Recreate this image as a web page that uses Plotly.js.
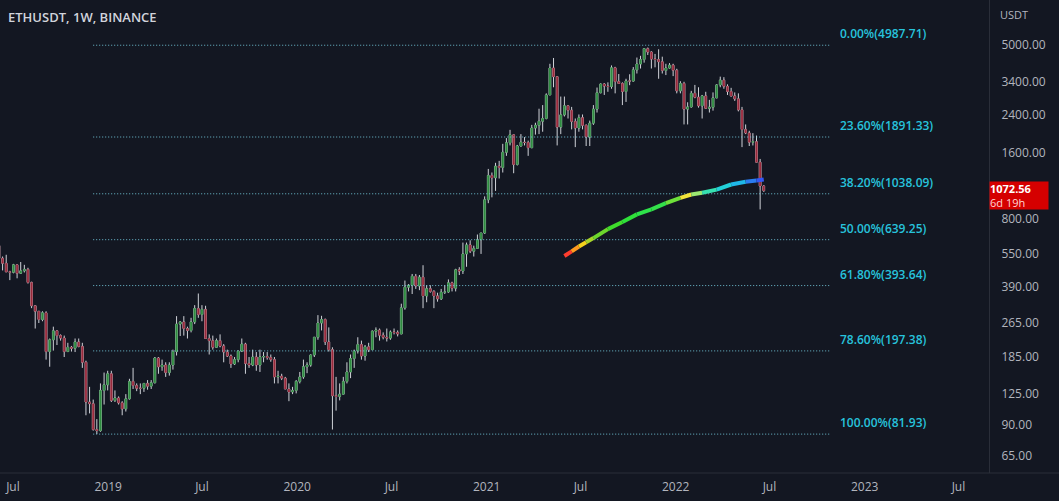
<!DOCTYPE html>
<html>
<head>
<meta charset="utf-8">
<script src="https://cdn.plot.ly/plotly-3.0.1.min.js"></script>
<style>
html,body{margin:0;padding:0;background:#131722;}
#chart{width:1059px;height:501px;}
</style>
</head>
<body>
<div id="chart"></div>
<script>
// Weekly candles [open, high, low, close], weeks starting Monday 2018-06-04
const firstWeek = '2018-06-04';
const candles2018 = [
  [600,628,515,525],[525,535,462,498],[498,545,455,455],[455,460,417,453],
  [453,495,448,490],[490,492,425,448],[448,505,445,460],[460,490,452,467],
  [467,475,402,407],[407,410,310,318],[318,320,250,300],[300,300,265,275],
  [275,300,270,295],[295,300,180,196],[196,225,167,222],[222,255,198,244],
  [244,245,210,232],[232,235,220,226],[226,232,185,196],[196,215,195,205],
  [205,208,196,203],[203,225,195,217],[217,225,205,207],[207,215,165,175],
  [175,178,100,115],[115,135,102,113],[113,118,85,86],[86,96,82,85],
  [85,140,84,130],[130,157,112,138],[138,160,130,155]
];
const candles2019 = [
  [155,160,115,117],[117,130,115,120],[120,122,112,114],[114,116,100,107],
  [107,125,104,119],[119,147,118,143],[143,165,132,137],[137,140,129,133],
  [133,140,125,133],[133,140,128,140],[140,145,131,136],[136,145,132,141],
  [141,185,140,183],[183,185,155,167],[167,180,160,170],[170,175,150,157],
  [157,175,152,170],[170,200,162,196],[196,285,188,262],[262,270,231,268],
  [268,285,232,250],[250,255,225,245],[245,280,240,268],[268,320,262,309],
  [309,362,280,290],[290,320,270,306],[306,318,224,225],[225,235,190,220],
  [220,232,200,205],[205,225,205,220],[220,235,205,208],[208,212,175,195],
  [195,200,185,187],[187,190,165,172],[172,185,170,180],[180,198,175,197],
  [197,225,195,212],[212,215,155,173],[173,185,165,170],[170,200,168,185],
  [185,195,160,170],[170,200,158,185],[185,195,175,186],[186,195,180,184],
  [184,190,176,180],[180,185,140,150],[150,160,140,151],[151,155,145,148],
  [148,150,132,132],[132,140,116,128],[128,135,125,130],[130,145,126,143]
];
const candles2020 = [
  [143,158,140,150],[150,180,147,167],[167,175,156,170],[170,190,167,189],
  [189,228,185,228],[228,288,222,265],[265,286,245,275],[275,278,210,217],
  [217,253,196,200],[200,205,86,123],[123,150,105,122],[122,140,117,125],
  [125,150,125,143],[143,175,140,158],[158,190,148,182],[182,200,165,197],
  [197,228,192,211],[211,220,180,187],[187,210,178,206],[206,215,195,200],
  [200,245,199,243],[243,253,228,246],[246,250,220,233],[233,240,223,228],
  [228,250,218,226],[226,245,222,241],[241,250,235,240],[240,245,230,236],
  [236,325,236,311],[311,415,305,387],[387,400,370,395],[395,445,360,434],
  [434,445,380,392],[392,440,375,430],[430,488,310,353],[353,395,330,381],
  [381,395,365,370],[370,375,310,353],[353,365,332,342],[342,380,338,367],
  [367,395,360,368],[368,420,365,405],[405,410,370,383],[383,470,370,465],
  [465,478,440,459],[459,620,445,550],[550,620,480,605],[605,635,555,566],
  [566,600,535,583],[583,675,580,639],[639,665,550,686],[686,1010,680,975]
];
const candles2021 = [
  [975,1350,940,1260],[1260,1300,1000,1230],[1230,1440,1070,1390],[1390,1470,1220,1370],
  [1370,1760,1300,1610],[1610,1870,1550,1780],[1780,2040,1730,1935],[1935,1940,1290,1415],
  [1415,1740,1400,1720],[1720,1950,1710,1790],[1790,1890,1730,1785],[1785,1820,1550,1690],
  [1690,2150,1680,2080],[2080,2200,1940,2140],[2140,2550,1950,2235],[2235,2650,2000,2300],
  [2300,3000,2280,2950],[2950,4100,2950,3920],[3920,4360,3200,3580],[3580,3600,1730,2100],
  [2100,2900,1950,2390],[2390,2900,2350,2630],[2630,2650,2300,2510],[2510,2600,2050,2230],
  [2230,2300,1700,2080],[2080,2400,2000,2320],[2320,2400,2050,2140],[2140,2160,1720,1890],
  [1890,2250,1720,2190],[2190,2650,2150,2540],[2540,3190,2450,3020],[3020,3330,3000,3310],
  [3310,3340,2950,3240],[3240,3370,3050,3225],[3225,4030,3150,3930],[3930,3970,3000,3400],
  [3400,3680,3320,3330],[3330,3370,2650,3060],[3060,3500,2740,3420],[3420,3670,3270,3415],
  [3415,3960,3400,3845],[3845,4380,3700,4090],[4090,4460,3900,4290],[4290,4820,4150,4810],
  [4810,4870,4500,4640],[4640,4680,3900,4310],[4310,4550,3950,4290],[4290,4780,3500,4190],
  [4190,4420,3700,3820],[3820,4100,3640,3920],[3920,4130,3900,4040],[4040,4100,3600,3830]
];
const candles2022 = [
  [3830,3890,3000,3080],[3080,3410,3000,3330],[3330,3390,2160,2540],[2540,2730,2160,2600],
  [2600,3080,2580,3000],[3000,3280,2850,2880],[2880,3200,2580,2630],[2630,2950,2300,2920],
  [2920,3050,2550,2560],[2560,2800,2450,2590],[2590,3030,2500,2860],[2860,3300,2850,3280],
  [3280,3580,3200,3450],[3450,3560,3150,3230],[3230,3300,2950,3060],[3060,3180,2900,2920],
  [2920,3030,2770,2830],[2830,3000,2480,2520],[2520,2600,1700,2050],[2050,2160,1950,1975],
  [1975,2020,1720,1790],[1790,1970,1730,1800],[1800,1920,1450,1450],[1450,1500,880,1127],
  [1127,1135,1060,1072.56]
];

// Moving-average curve
const maDates = ['2021-05-31','2021-06-14','2021-06-28','2021-07-12','2021-07-26','2021-08-23',
  '2021-09-20','2021-10-18','2021-11-15','2021-12-13','2022-01-10','2022-01-31','2022-02-21',
  '2022-03-21','2022-04-18','2022-05-16','2022-06-06','2022-06-20'];
const maValues = [538,565,595,622,650,715,770,835,880,940,995,1030,1050,1085,1145,1178,1195,1208];
const maColors = ['#ff3d2e','#ff9a1f','#f5d21c','#a8d42a','#6dd62c','#3fdc2c','#2fe03a','#2ee24a',
  '#33e04a','#6ee03a','#f2e43a','#9be870','#36e0b0','#22d0d8','#1fb8e8','#2a7cf0','#3357f5'];

// Fibonacci retracement
const fibLabels = ['0.00%','23.60%','38.20%','50.00%','61.80%','78.60%','100.00%'];
const fibLevels = [4987.71,1891.33,1038.09,639.25,393.64,197.38,81.93];
const fibStart = '2018-12-03';
const fibEnd = '2022-10-26';
const fibLabelDate = '2022-11-10';

const lastPrice = 1072.56;
const countdown = '6d 19h';

const yTicks = [65,90,125,185,265,390,550,800,1600,2400,3400,5000];
const xTickVals = ['2018-07-01','2019-01-01','2019-07-01','2020-01-01','2020-07-01','2021-01-01',
  '2021-07-01','2022-01-01','2022-07-01','2023-01-01','2023-07-01'];
const xTickText = ['Jul','2019','Jul','2020','Jul','2021','Jul','2022','Jul','2023','Jul'];

// ---- build ----
const all = candles2018.concat(candles2019, candles2020, candles2021, candles2022);
const t0 = Date.parse(firstWeek + 'T00:00:00Z');
const dates = all.map((_, i) => new Date(t0 + i * 7 * 864e5).toISOString().slice(0, 10));
const O = all.map(r => r[0]), H = all.map(r => r[1]), L = all.map(r => r[2]), C = all.map(r => r[3]);

const UP = '#2f8d40', DOWN = '#9a2b3d', WICK = '#cfd2d8';
const FONT = 'Open Sans, Noto Sans, sans-serif';

const traces = [];
// Fib lines
fibLevels.forEach(v => {
  traces.push({type:'scatter', mode:'lines', x:[fibStart, fibEnd], y:[v, v],
    line:{color:'rgba(120,210,230,0.9)', width:1, dash:'1px,2px'}, hoverinfo:'skip', showlegend:false});
});
// wicks
traces.push({type:'candlestick', x:dates, open:O, high:H, low:L, close:C,
  increasing:{line:{color:WICK, width:1}, fillcolor:WICK},
  decreasing:{line:{color:WICK, width:1}, fillcolor:WICK},
  whiskerwidth:0, hoverinfo:'skip', showlegend:false});
// bodies
traces.push({type:'candlestick', x:dates, open:O, close:C,
  high:all.map(r => Math.max(r[0], r[3])), low:all.map(r => Math.min(r[0], r[3])),
  increasing:{line:{color:UP, width:0.5}, fillcolor:UP},
  decreasing:{line:{color:DOWN, width:0.5}, fillcolor:DOWN},
  whiskerwidth:0, hoverinfo:'skip', showlegend:false});
// MA segments
for (let i = 0; i < maDates.length - 1; i++) {
  traces.push({type:'scatter', mode:'lines', x:[maDates[i], maDates[i+1]], y:[maValues[i], maValues[i+1]],
    line:{color:maColors[i], width:4}, hoverinfo:'skip', showlegend:false});
}

const annotations = [];
fibLevels.forEach((v, i) => {
  annotations.push({xref:'x', yref:'y', x:fibLabelDate, y:Math.log10(v), xanchor:'left', yanchor:'bottom',
    yshift:1, showarrow:false, text:fibLabels[i] + '(' + v.toFixed(2) + ')',
    font:{family:FONT, size:12, color:'#27c3dc', weight:600}});
});
annotations.push({xref:'paper', yref:'paper', x:0, y:1, xanchor:'left', yanchor:'top', xshift:6, yshift:-6,
  showarrow:false, text:'ETHUSDT, 1W, BINANCE', font:{family:FONT, size:13, color:'#d1d4dc', weight:600}});
annotations.push({xref:'paper', yref:'paper', x:1, y:1, xanchor:'left', yanchor:'top', xshift:9, yshift:-5,
  showarrow:false, text:'USDT', font:{family:FONT, size:11, color:'#b2b5be'}});
annotations.push({xref:'paper', yref:'y', x:1, y:Math.log10(lastPrice), xanchor:'left', yanchor:'top', yshift:10,
  showarrow:false, align:'left', valign:'middle', bgcolor:'#d50000', borderpad:0, width:58, height:27,
  text:'<b>' + lastPrice.toFixed(2) + '</b><br><span style="color:#ffd6d6">' + countdown + '</span>',
  font:{family:FONT, size:11, color:'#ffffff'}});

const shapes = [
  {type:'line', xref:'paper', yref:'y', x0:0, x1:1, y0:Math.log10(lastPrice), y1:Math.log10(lastPrice),
   line:{color:'#8e1f27', width:1, dash:'1px,2px'}},
  {type:'line', xref:'paper', yref:'paper', x0:0, x1:1.08, y0:0, y1:0, line:{color:'#2a2e39', width:1}}
];

const layout = {
  width:1059, height:501,
  margin:{l:0, r:70, t:0, b:28},
  paper_bgcolor:'#131722', plot_bgcolor:'#131722',
  showlegend:false,
  xaxis:{type:'date', range:['2018-06-06','2023-08-29'], rangeslider:{visible:false},
    showgrid:false, zeroline:false, showline:false,
    tickmode:'array', tickvals:xTickVals, ticktext:xTickText,
    ticks:'outside', ticklen:3, tickcolor:'rgba(0,0,0,0)',
    tickfont:{family:FONT, size:12, color:'#b2b5be'}},
  yaxis:{type:'log', side:'right', range:[1.735, 3.9055], showgrid:false, zeroline:false,
    showline:true, linecolor:'#2a2e39', linewidth:1,
    tickmode:'array', tickvals:yTicks, ticktext:yTicks.map(v => v.toFixed(2)),
    ticks:'outside', ticklen:9, tickcolor:'rgba(0,0,0,0)',
    tickfont:{family:FONT, size:12, color:'#b2b5be'}},
  annotations:annotations,
  shapes:shapes
};

Plotly.newPlot('chart', traces, layout, {staticPlot:true, displayModeBar:false});
</script>
</body>
</html>
